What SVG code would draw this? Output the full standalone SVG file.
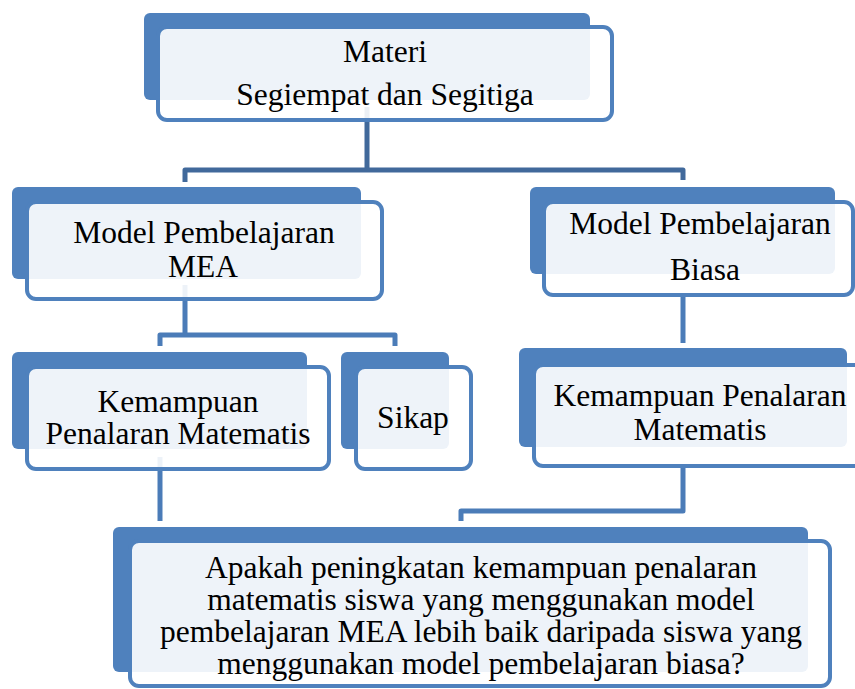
<svg xmlns="http://www.w3.org/2000/svg" width="855" height="689" viewBox="0 0 855 689">
<style>
.back{fill:#4F81BD;}
.front{fill:#FFFFFF;fill-opacity:0.9;stroke:#4F81BD;stroke-width:4;}
.c1{fill:none;stroke:#41699B;stroke-width:5;stroke-linejoin:round;}
.c2{fill:none;stroke:#4B7CB8;stroke-width:5;stroke-linejoin:round;}
text{font-family:"Liberation Serif","Times New Roman",serif;font-size:31.5px;fill:#000;text-anchor:middle;}
</style>
<rect width="855" height="689" fill="#FFFFFF"/>
<g id="connectors">
<path class="c1" d="M367,107 V170 M185,182 V170 H683 V180"/>
<path class="c2" d="M185,285 V335 M160,346 V335 H395 V346"/>
<path class="c2" d="M683,297 V343"/>
<path class="c2" d="M160,457 V521"/>
<path class="c2" d="M683,465 V511 H461 V521"/>
</g>
<g id="materi">
<rect class="back" x="144" y="13" width="446" height="87" rx="6"/>
<rect class="front" x="158" y="27" width="454" height="93" rx="9"/>
<text x="385" y="62">Materi</text>
<text x="385" y="105">Segiempat dan Segitiga</text>
</g>
<g id="model-mea">
<rect class="back" x="12" y="187" width="349" height="92" rx="6"/>
<rect class="front" x="27" y="202" width="355" height="97" rx="9"/>
<text x="204" y="243">Model Pembelajaran</text>
<text x="203" y="277">MEA</text>
</g>
<g id="model-biasa">
<rect class="back" x="530" y="187" width="305" height="87" rx="6"/>
<rect class="front" x="544" y="202" width="309" height="93" rx="9"/>
<text x="700" y="234">Model Pembelajaran</text>
<text x="705" y="280">Biasa</text>
</g>
<g id="kemampuan-mea">
<rect class="back" x="12" y="352" width="295" height="97" rx="6"/>
<rect class="front" x="27" y="367" width="302" height="102" rx="9"/>
<text x="178" y="412">Kemampuan</text>
<text x="178" y="444">Penalaran Matematis</text>
</g>
<g id="sikap">
<rect class="back" x="341" y="352" width="108" height="97" rx="6"/>
<rect class="front" x="356" y="367" width="115" height="102" rx="9"/>
<text x="413" y="428">Sikap</text>
</g>
<g id="kemampuan-biasa">
<rect class="back" x="519" y="348" width="328" height="99" rx="6"/>
<rect class="front" x="534" y="365" width="330" height="101" rx="9"/>
<text x="700" y="406">Kemampuan Penalaran</text>
<text x="700" y="440">Matematis</text>
</g>
<g id="pertanyaan">
<rect class="back" x="113" y="527" width="695" height="145" rx="6"/>
<rect class="front" x="130" y="541" width="700" height="145" rx="9"/>
<text x="481" y="578">Apakah peningkatan kemampuan penalaran</text>
<text x="481" y="610">matematis siswa yang menggunakan model</text>
<text x="481" y="642">pembelajaran MEA lebih baik daripada siswa yang</text>
<text x="481" y="674">menggunakan model pembelajaran biasa?</text>
</g>
</svg>
